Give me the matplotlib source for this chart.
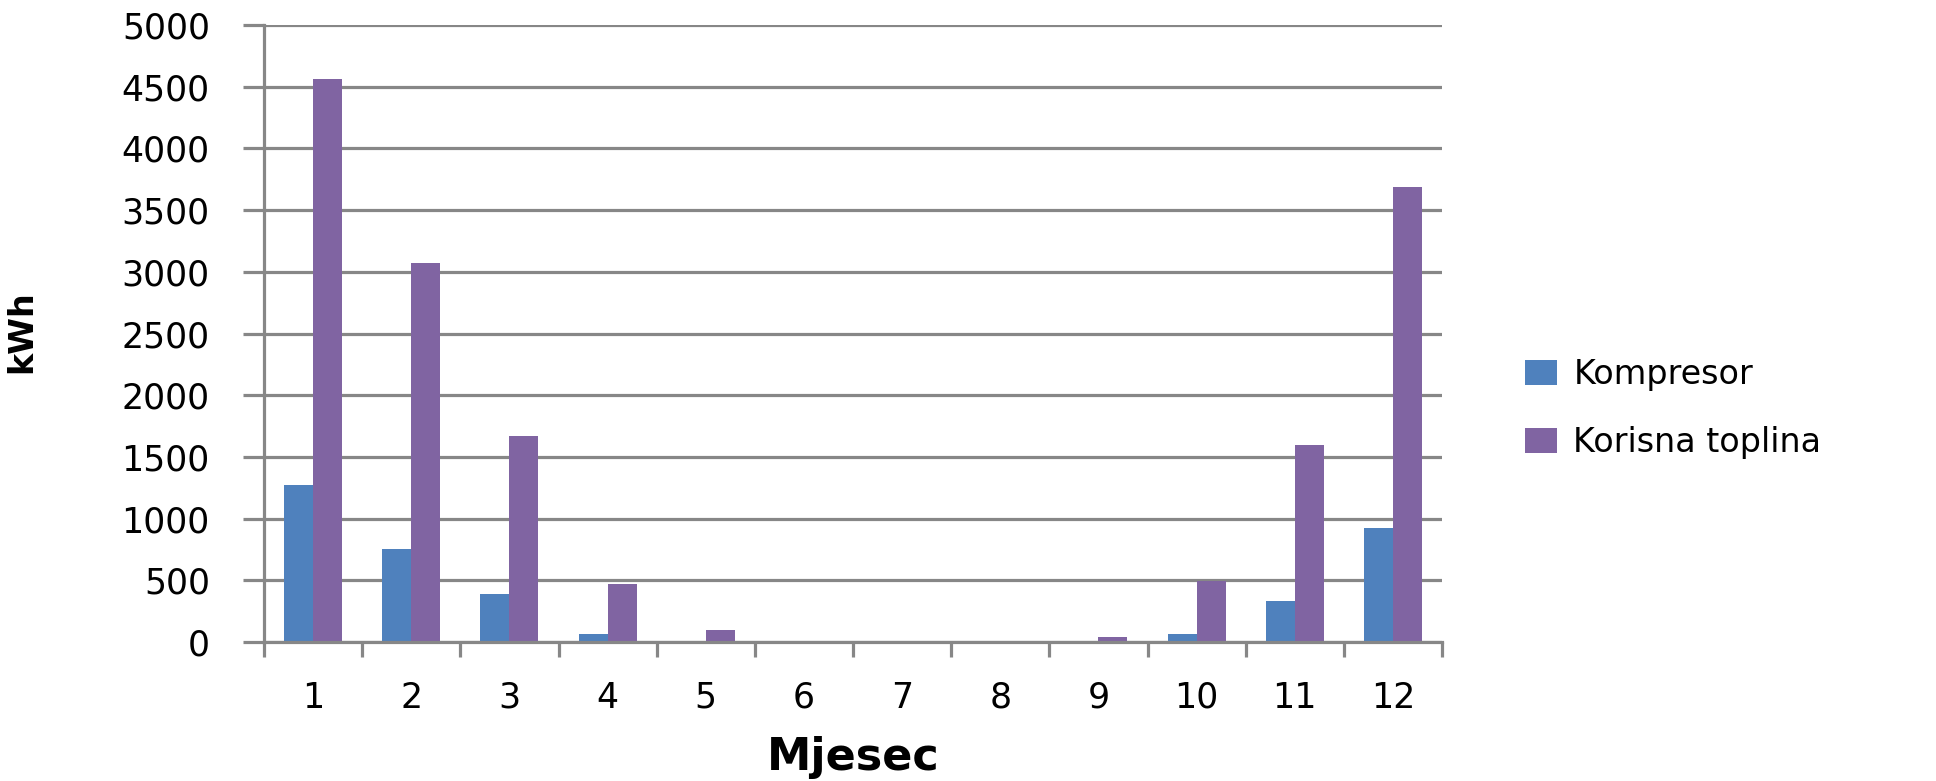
import matplotlib
matplotlib.use("Agg")
import matplotlib.pyplot as plt
import numpy as np

# Monthly energy (kWh)
months = ["1", "2", "3", "4", "5", "6", "7", "8", "9", "10", "11", "12"]
kompresor = [1270, 757, 390, 68, 0, 0, 0, 0, 0, 68, 330, 924]
korisna_toplina = [4566, 3070, 1667, 472, 97, 0, 0, 0, 40, 492, 1600, 3688]
series_labels = ["Kompresor", "Korisna toplina"]
yticks = [0, 500, 1000, 1500, 2000, 2500, 3000, 3500, 4000, 4500, 5000]

blue = "#4F81BD"
purple = "#8064A2"
grid_gray = "#878787"

plt.rcParams["font.family"] = ["DejaVu Sans"]

fig = plt.figure(figsize=(19.36, 7.81), dpi=100)
ax = fig.add_axes([264 / 1936, 1 - 642 / 781, (1442 - 264) / 1936, (642 - 25) / 781])

x = np.arange(len(months))
w = 0.295
ax.bar(x - w / 2, kompresor, width=w, color=blue, label=series_labels[0], zorder=3)
ax.bar(x + w / 2, korisna_toplina, width=w, color=purple, label=series_labels[1], zorder=3)

ax.set_xlim(-0.5, len(months) - 0.5)
ax.set_ylim(0, 5000)

# y axis: gridlines, outward ticks
ax.set_yticks(yticks)
ax.set_yticklabels([str(v) for v in yticks], fontsize=25)
ax.yaxis.grid(True, color=grid_gray, linewidth=2.3, zorder=0)
ax.tick_params(axis="y", direction="out", length=15, width=2.3, color=grid_gray, pad=24)

# x axis: ticks at category boundaries, labels at centres
ax.set_xticks(np.arange(-0.5, len(months), 1.0))
ax.set_xticklabels([])
ax.set_xticks(x, minor=True)
ax.set_xticklabels(months, minor=True, fontsize=25)
ax.tick_params(axis="x", which="major", direction="out", length=11, width=2.3, color=grid_gray)
ax.tick_params(axis="x", which="minor", length=0, pad=28)

for side in ["top", "right"]:
    ax.spines[side].set_visible(False)
for side in ["left", "bottom"]:
    ax.spines[side].set_color(grid_gray)
    ax.spines[side].set_linewidth(2.3)
    ax.spines[side].set_zorder(4)

ax.set_xlabel("Mjesec", fontsize=32, fontweight="bold", labelpad=15)
ax.set_ylabel("kWh", fontsize=24, fontweight="bold")
ax.yaxis.set_label_coords(38 / 1936, 1 - 332 / 781, transform=fig.transFigure)

fig.legend(
    loc="upper left",
    bbox_to_anchor=(1495 / 1936, 1 - 328 / 781),
    frameon=False,
    fontsize=24,
    handlelength=0.95,
    handleheight=0.75,
    handletextpad=0.5,
    labelspacing=1.05,
)

fig.savefig("out.png", dpi=100, facecolor="white")
